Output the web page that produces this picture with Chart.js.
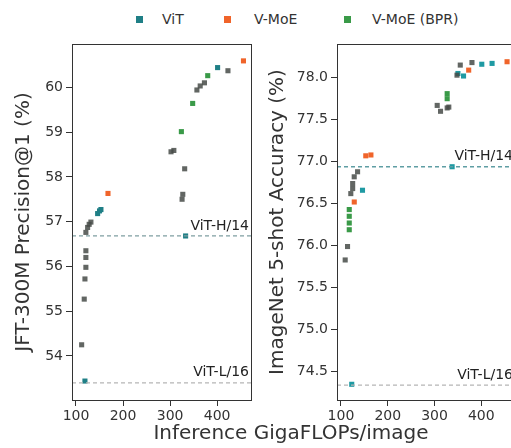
<!DOCTYPE html>
<html>
<head>
<meta charset="utf-8">
<script src="https://cdn.jsdelivr.net/npm/chart.js@4/dist/chart.umd.min.js"></script>
<style>
  html, body { margin: 0; padding: 0; background: #fff; overflow: hidden; width: 511px; height: 448px; }
  body { position: relative; font-family: "DejaVu Sans", sans-serif; color: #333; }
  .wrap { position: absolute; top: 0; height: 448px; }
  #legend { position: absolute; top: 10px; left: 0; width: 511px; height: 20px; font-size: 14px; }
  #legend span { position: absolute; top: 0; line-height: 18px; white-space: nowrap; }
  #legend i { position: absolute; top: 6px; width: 7px; height: 7px; }
  #xlabel { position: absolute; left: 0; width: 582px; top: 420px; text-align: center; font-size: 20px; line-height: 24px; }
</style>
</head>
<body>
<div id="legend">
  <i style="left:136px;background:#1f7f86"></i><span style="left:162px">ViT</span>
  <i style="left:224px;background:#f0642a"></i><span style="left:254px">V-MoE</span>
  <i style="left:344px;background:#3a9a48"></i><span style="left:372px">V-MoE (BPR)</span>
</div>
<div class="wrap" style="left:0;width:262px"><canvas id="jft" width="262" height="448"></canvas></div>
<div class="wrap" style="left:265px;width:261px"><canvas id="inet" width="261" height="448"></canvas></div>
<div id="xlabel">Inference GigaFLOPs/image</div>
<script>
// x range shared by both panels
const flopsMin = 91.5;
const flopsMax = 472;
const flopsTicks = [100, 200, 300, 400];

// JFT-300M precision@1 panel
const jftTicks = [54, 55, 56, 57, 58, 59, 60];
const jftVitFlops = [119, 146, 150, 153, 333, 401];
const jftVitPrec = [53.44, 57.18, 57.24, 57.27, 56.68, 60.44];
const jftMoeFlops = [168, 456];
const jftMoePrec = [57.63, 60.59];
const jftBprFlops = [324, 348, 380];
const jftBprPrec = [59.01, 59.64, 60.26];
const jftBprLowFlops = [112, 117.5, 119, 121, 121, 121, 121, 124.7, 128, 131.7, 302, 308, 325.5, 327, 331, 357, 364, 373, 423];
const jftBprLowPrec = [54.25, 55.27, 55.72, 55.98, 56.20, 56.35, 56.76, 56.87, 56.94, 56.99, 58.56, 58.59, 57.50, 57.61, 58.18, 59.94, 60.03, 60.10, 60.37];
const jftVitH = 56.68;
const jftVitL = 53.40;

// ImageNet 5-shot panel
const inetTicks = [74.5, 75.0, 75.5, 76.0, 76.5, 77.0, 77.5, 78.0];
const inetVitFlops = [123, 146, 337.6, 350, 362, 401, 423];
const inetVitAcc = [74.35, 76.66, 76.94, 78.05, 78.02, 78.16, 78.17];
const inetMoeFlops = [128.4, 153, 164, 373, 455];
const inetMoeAcc = [76.52, 77.07, 77.08, 78.09, 78.19];
const inetBprFlops = [117.7, 117.7, 117.7, 117.7, 327, 327];
const inetBprAcc = [76.19, 76.27, 76.35, 76.43, 77.75, 77.81];
const inetBprLowFlops = [109, 114, 121, 125, 125, 128.3, 135.5, 305.7, 312.8, 327, 330.5, 348, 355, 380];
const inetBprLowAcc = [75.83, 75.99, 76.62, 76.68, 76.74, 76.82, 76.88, 77.67, 77.60, 77.64, 77.65, 78.03, 78.15, 78.18];
const inetVitH = 76.94;
const inetVitL = 74.34;

const zip = (xs, ys) => xs.map((x, i) => ({ x: x, y: ys[i] }));
const hline = y => [{ x: flopsMin, y: y }, { x: flopsMax, y: y }];

function dots(label, xs, ys, color) {
  return {
    type: "scatter", label: label, data: zip(xs, ys),
    pointStyle: "rect", pointRadius: 3.6, pointHoverRadius: 3.6,
    backgroundColor: color, borderColor: color, borderWidth: 0
  };
}
function refLine(label, y, color) {
  return {
    type: "line", label: label, data: hline(y),
    borderColor: color, borderWidth: 1.3, borderDash: [4, 3],
    pointRadius: 0, fill: false
  };
}

// box around plot + ViT labels on the reference lines
const boxAndNames = {
  id: "boxAndNames",
  afterDraw(chart, args, opts) {
    const a = chart.chartArea, c = chart.ctx, ys = chart.scales.y;
    c.save();
    c.strokeStyle = "#333"; c.lineWidth = 1;
    c.strokeRect(a.left + 0.5, a.top + 0.5, a.right - a.left, a.bottom - a.top);
    c.fillStyle = "#222";
    c.font = "14px 'DejaVu Sans'";
    c.textAlign = "right"; c.textBaseline = "bottom";
    c.fillText("ViT-H/14", a.right - 2, ys.getPixelForValue(opts.h) - 3);
    c.fillText("ViT-L/16", a.right - 2, ys.getPixelForValue(opts.l) - 3);
    c.restore();
  }
};

function makeChart(id, sets, yMin, yMax, yTicks, title, titlePad, decimals, refs) {
  return new Chart(document.getElementById(id), {
    data: { datasets: sets },
    plugins: [boxAndNames],
    options: {
      responsive: false, animation: false,
      layout: { padding: { top: 44, right: 11, left: 0, bottom: 0 } },
      plugins: { legend: { display: false }, tooltip: { enabled: false }, boxAndNames: refs },
      scales: {
        x: {
          type: "linear", min: flopsMin, max: flopsMax,
          afterFit: s => { s.height = 48; },
          afterBuildTicks: s => { s.ticks = flopsTicks.map(v => ({ value: v })); },
          grid: { drawOnChartArea: false, tickLength: 6, color: "#333" },
          border: { display: false },
          ticks: { font: { family: "DejaVu Sans", size: 14 }, color: "#333", padding: 2 }
        },
        y: {
          type: "linear", min: yMin, max: yMax,
          afterFit: s => { s.width = 72; },
          afterBuildTicks: s => { s.ticks = yTicks.map(v => ({ value: v })); },
          grid: { drawOnChartArea: false, tickLength: 6, color: "#333" },
          border: { display: false },
          ticks: {
            font: { family: "DejaVu Sans", size: 14 }, color: "#333", padding: 3,
            callback: v => v.toFixed(decimals)
          },
          title: {
            display: true, text: title, color: "#333",
            font: { family: "DejaVu Sans", size: 20 }, padding: { top: titlePad, bottom: 0 }
          }
        }
      }
    }
  });
}

makeChart("jft", [
  refLine("ViT-H/14", jftVitH, "#7f9ea1"),
  refLine("ViT-L/16", jftVitL, "#b5b5b5"),
  dots("V-MoE (BPR) low C", jftBprLowFlops, jftBprLowPrec, "rgba(70,75,72,0.85)"),
  dots("V-MoE (BPR)", jftBprFlops, jftBprPrec, "#3a9a48"),
  dots("V-MoE", jftMoeFlops, jftMoePrec, "#f0642a"),
  dots("ViT", jftVitFlops, jftVitPrec, "#1f7f86")
], 53.017, 60.967, jftTicks, "JFT-300M Precision@1 (%)", 12, 0, { h: jftVitH, l: jftVitL });

makeChart("inet", [
  refLine("ViT-H/14", inetVitH, "#5f9ea4"),
  refLine("ViT-L/16", inetVitL, "#b5b5b5"),
  dots("V-MoE (BPR) low C", inetBprLowFlops, inetBprLowAcc, "rgba(70,75,72,0.85)"),
  dots("V-MoE (BPR)", inetBprFlops, inetBprAcc, "#3a9a48"),
  dots("V-MoE", inetMoeFlops, inetMoeAcc, "#f0642a"),
  dots("ViT", inetVitFlops, inetVitAcc, "#1f9aa3")
], 74.163, 78.401, inetTicks, "ImageNet 5-shot Accuracy (%)", 1, 1, { h: inetVitH, l: inetVitL });
</script>
</body>
</html>
